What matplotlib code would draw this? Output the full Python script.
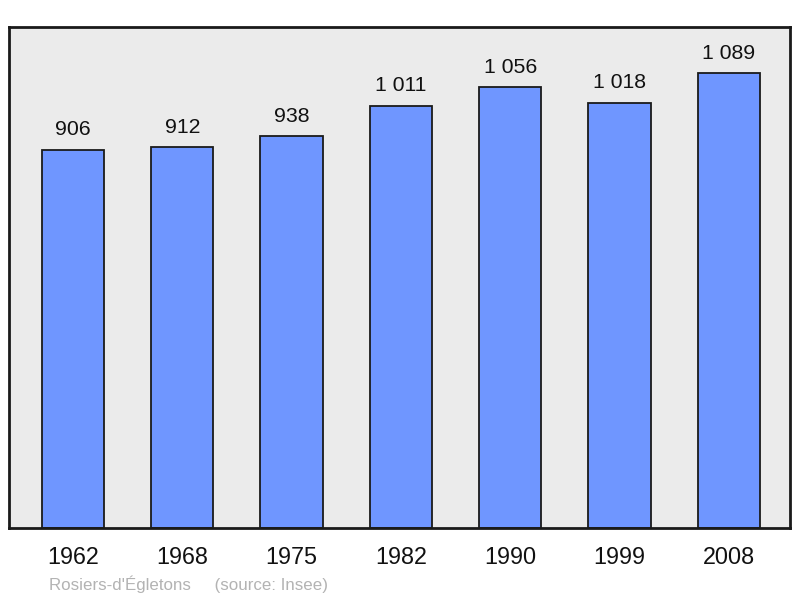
import matplotlib
matplotlib.use("Agg")
import matplotlib.pyplot as plt

# ── data ─────────────────────────────────────
years = ["1962", "1968", "1975", "1982", "1990", "1999", "2008"]
population = [906, 912, 938, 1011, 1056, 1018, 1089]
value_labels = ["906", "912", "938", "1 011", "1 056", "1 018", "1 089"]
footnote = "Rosiers-d'Égletons     (source: Insee)"

plt.rcParams["font.family"] = ["Liberation Sans", "DejaVu Sans"]

fig = plt.figure(figsize=(8, 5.98), dpi=100)
ax = fig.add_axes([0.01125, 0.117, 0.97625, 0.838])
ax.set_facecolor("#ebebeb")

x = list(range(len(years)))
bars = ax.bar(x, population, width=0.57, color="#6f96ff",
              edgecolor="#1a1a1a", linewidth=1.3, zorder=2)

for xi, val, lab in zip(x, population, value_labels):
    ax.annotate(lab, (xi, val), xytext=(0, 7.5), textcoords="offset points",
                ha="center", va="bottom", fontsize=15.3, color="#111111")

ax.set_xlim(-0.585, 6.56)
ax.set_ylim(0, 1200)
ax.set_xticks(x)
ax.set_xticklabels(years, fontsize=16.8, color="#111111")
ax.tick_params(axis="x", length=0, pad=13)
ax.set_yticks([])

for s in ax.spines.values():
    s.set_linewidth(2)
    s.set_color("#1a1a1a")

fig.text(49 / 800, 1 - 584 / 598, footnote, fontsize=12.2,
         color="#b3b3b3", ha="left", va="center")

fig.savefig("out.png", dpi=100)
